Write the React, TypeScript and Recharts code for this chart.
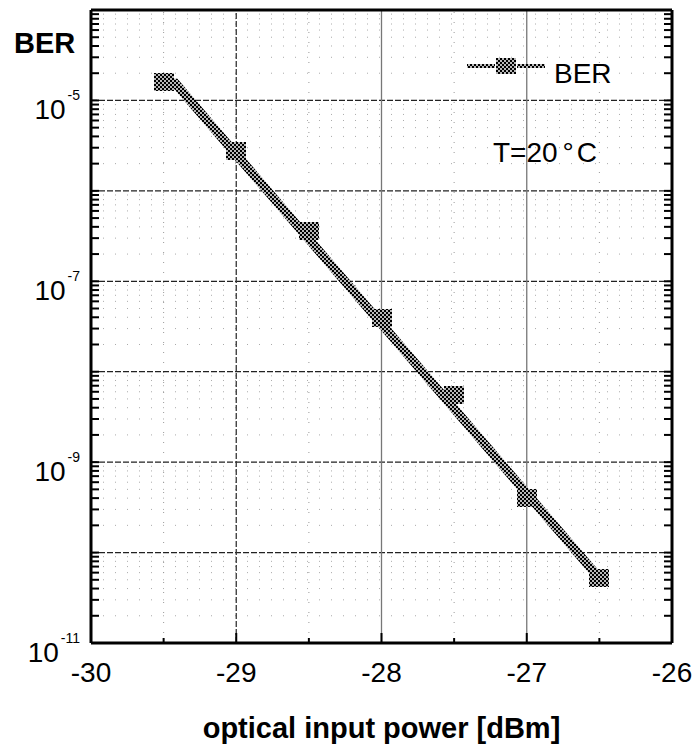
import React from "react";
import { ComposedChart, Line, XAxis, YAxis, ReferenceLine, Label } from "recharts";

const FONT = "'Liberation Sans', Arial, Helvetica, sans-serif";

const powerDbm = [-29.5, -29, -28.5, -28, -27.5, -27, -26.5];
const berMeasured = [1.58e-5, 2.76e-6, 3.6e-7, 3.93e-8, 5.5e-9, 4.0e-10, 5.2e-11];

// the thick straight band that runs through the points
const fitPower = [-29.5, -29.42, -26.5];
const fitBer = [1.58e-5, 1.55e-5, 5.2e-11];

// axes
const xTicks = [-30, -29.5, -29, -28.5, -28, -27.5, -27, -26.5, -26];
const xMajorGrid = [-29, -28, -27];
const xMinorGrid = [-29.5, -28.5, -27.5, -26.5];
const decades = [1e-11, 1e-10, 1e-9, 1e-8, 1e-7, 1e-6, 1e-5, 1e-4];
const minorSteps = [2, 3, 4, 5, 6, 7, 8, 9];
const labelDecades = [1e-11, 1e-9, 1e-7, 1e-5];
const labelExponents = ["-11", "-9", "-7", "-5"];

const yMinor = decades.slice(0, -1).flatMap((d) => minorSteps.map((m) => m * d));
const yTicks = [...decades, ...yMinor].sort((a, b) => a - b);
const yMajorGrid = decades.slice(1, -1);

const measured = powerDbm.map((p, i) => ({ power: p, ber: berMeasured[i] }));
const fit = fitPower.map((p, i) => ({ power: p, ber: fitBer[i] }));

const near = (a: number, b: number) => Math.abs(a - b) / b < 1e-6;

function LeftTick({ x, y, payload }: any) {
  const v = payload.value;
  const i = labelDecades.findIndex((d) => near(v, d));
  return (
    <g>
      <line x1={x} x2={x + 8} y1={y} y2={y} stroke="#000" strokeWidth={2} />
      {i >= 0 && (
        <text x={x - 11} y={y + 19} textAnchor="end" fontSize={28} fontFamily={FONT} fill="#000">
          10
          <tspan fontSize={14} dx={2} dy={-19}>
            {labelExponents[i]}
          </tspan>
        </text>
      )}
    </g>
  );
}

function RightTick({ x, y }: any) {
  return <line x1={x - 8} x2={x} y1={y} y2={y} stroke="#000" strokeWidth={2} />;
}

function BottomTick({ x, y, payload }: any) {
  const v = payload.value;
  const major = Number.isInteger(v);
  return (
    <g>
      <line x1={x} x2={x} y1={y} y2={y - (major ? 10 : 5)} stroke="#000" strokeWidth={2} />
      {major && (
        <text x={x} y={y + 39} textAnchor="middle" fontSize={28} fontFamily={FONT} fill="#000">
          {String(v)}
        </text>
      )}
    </g>
  );
}

function TopTick({ x, y, payload }: any) {
  const major = Number.isInteger(payload.value);
  return <line x1={x} x2={x} y1={y} y2={y + (major ? 10 : 5)} stroke="#000" strokeWidth={2} />;
}

function Marker({ cx, cy }: any) {
  if (cx == null || cy == null) return null;
  return <rect x={Math.round(cx) - 10} y={Math.round(cy) - 9} width={20} height={18} fill="url(#checker)" />;
}

export default function App() {
  return (
    <div style={{ position: "absolute", left: 0, top: 0, width: 693, height: 753, background: "#fff" }}>
      <ComposedChart width={693} height={753} margin={{ top: 9, right: 20, bottom: 70, left: 11 }}>
        <defs>
          <pattern id="checker" width={4} height={4} patternUnits="userSpaceOnUse">
            <rect width={4} height={4} fill="#000" />
            <rect x={0} y={0} width={2} height={2} fill="#fff" fillOpacity={0.72} />
            <rect x={2} y={2} width={2} height={2} fill="#fff" fillOpacity={0.72} />
          </pattern>
        </defs>
        <XAxis
          dataKey="power"
          type="number"
          domain={[-30, -26]}
          ticks={xTicks}
          interval={0}
          height={40}
          tickLine={false}
          tickSize={0}
          tickMargin={0}
          axisLine={{ stroke: "#000", strokeWidth: 3 }}
          tick={(p: any) => <BottomTick {...p} />}
        >
          <Label
            value="optical input power [dBm]"
            position="bottom"
            offset={34}
            fontSize={29}
            fontWeight="bold"
            fontFamily={FONT}
            fill="#000"
          />
        </XAxis>
        <XAxis
          xAxisId="top"
          orientation="top"
          type="number"
          domain={[-30, -26]}
          ticks={xTicks}
          interval={0}
          height={1}
          tickLine={false}
          tickSize={0}
          tickMargin={0}
          axisLine={{ stroke: "#000", strokeWidth: 3 }}
          tick={(p: any) => <TopTick {...p} />}
        />
        <YAxis
          type="number"
          scale="log"
          domain={[1e-11, 1e-4]}
          allowDataOverflow
          ticks={yTicks}
          interval={0}
          width={80}
          tickLine={false}
          tickSize={0}
          tickMargin={0}
          axisLine={{ stroke: "#000", strokeWidth: 3 }}
          tick={(p: any) => <LeftTick {...p} />}
          label={{
            value: "BER",
            content: (props: any) => {
              const vb = props.viewBox || { x: 11, y: 10 };
              return (
                <text x={vb.x + 3} y={vb.y + 43} fontSize={29} fontWeight="bold" fontFamily={FONT} fill="#000">
                  BER
                </text>
              );
            },
          }}
        />
        <YAxis
          yAxisId="right"
          orientation="right"
          type="number"
          scale="log"
          domain={[1e-11, 1e-4]}
          allowDataOverflow
          ticks={yTicks}
          interval={0}
          width={1}
          tickLine={false}
          tickSize={0}
          tickMargin={0}
          axisLine={{ stroke: "#000", strokeWidth: 3 }}
          tick={(p: any) => <RightTick {...p} />}
        />

        {yMinor.map((v) => (
          <ReferenceLine key={"ym" + v} y={v} stroke="#aaa" strokeWidth={1} strokeDasharray="1 11" />
        ))}
        {xMinorGrid.map((v) => (
          <ReferenceLine key={"xm" + v} x={v} stroke="#999" strokeWidth={1} strokeDasharray="1 9" />
        ))}
        {yMajorGrid.map((v) => (
          <ReferenceLine key={"yM" + v} y={v} stroke="#222" strokeWidth={1.3} strokeDasharray="6 2" />
        ))}
        {xMajorGrid.map((v, i) => (
          <ReferenceLine
            key={"xM" + v}
            x={v}
            stroke={i === 0 ? "#333" : "#777"}
            strokeWidth={1.3}
            strokeDasharray={i === 0 ? "6 2" : undefined}
          />
        ))}

        <Line
          data={fit}
          dataKey="ber"
          type="linear"
          stroke="url(#checker)"
          strokeWidth={9}
          dot={false}
          activeDot={false}
          isAnimationActive={false}
        />
        <Line
          data={measured}
          dataKey="ber"
          type="linear"
          stroke="none"
          dot={(p: any) => <Marker key={"mk" + p.index} {...p} />}
          activeDot={false}
          isAnimationActive={false}
        />
      </ComposedChart>

      {/* legend + annotation */}
      <svg
        width={693}
        height={753}
        style={{ position: "absolute", left: 0, top: 0, pointerEvents: "none" }}
      >
        <rect x={467} y={64} width={28} height={4} fill="url(#checker)" />
        <rect x={517} y={64} width={28} height={4} fill="url(#checker)" />
        <rect x={496} y={58} width={20} height={16} fill="url(#checker)" />
        <text x={554} y={83} fontSize={28} fontFamily={FONT} fill="#000">
          BER
        </text>
        <text x={493} y={162} fontSize={28} fontFamily={FONT} fill="#000">
          T=20
          <tspan dx={5}>°</tspan>
          <tspan dx={3}>C</tspan>
        </text>
      </svg>
    </div>
  );
}
